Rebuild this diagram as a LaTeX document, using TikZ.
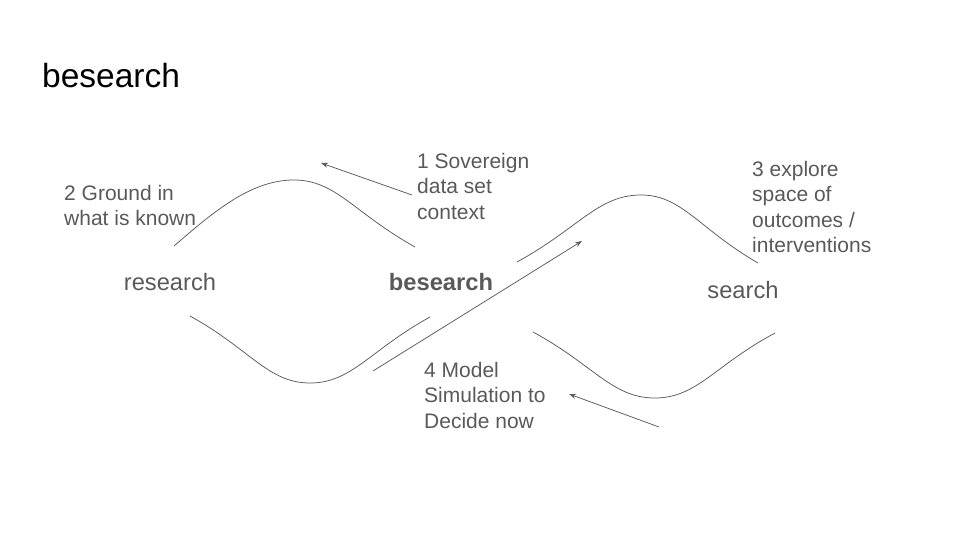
\documentclass[tikz,border=0pt]{standalone}
\usepackage{fontspec}
\setmainfont{Liberation Sans}
\usetikzlibrary{positioning}
\usetikzlibrary{arrows.meta}
\definecolor{inkgray}{HTML}{595959}
\tikzset{every node/.style={ % Sets the properties for each text
           align=left,
           inner sep=0pt,
           text=inkgray},
         hub/.style={font=\fontsize{23.7}{28}\selectfont},
         note/.style={anchor=north west,
           font=\fontsize{21}{25.5}\selectfont},
         wave/.style={draw=inkgray, line width=0.75pt},
         every edge/.style={ % Sets the properties for each arrow
           draw=inkgray, line width=0.75pt,
           -{Stealth[length=7pt,width=5pt]}}}

\begin{document}
\begin{tikzpicture}[x=1pt, y=-1pt]
  \useasboundingbox (0,0) rectangle (960,540);

  \node [anchor=base west, text=black, font=\fontsize{33.5}{40}\selectfont] (title) at (42,88) {besearch};

  \node [hub] (research) at (170,282) {research};
  \node [hub] (besearch) at (441,282) {\textbf{besearch}};
  \node [hub] (search) at (743,290) {search};

  \node [note] (ground) at (64,185) {2 Ground in\\what is known};
  \node [note] (sovereign) at (417,153) {1 Sovereign\\data set\\context};
  \node [note] (explore) at (752,161) {3 explore\\space of\\outcomes /\\interventions};
  \node [note] (model) at (424,362) {4 Model\\Simulation to\\Decide now};

  % the waves
  \draw [wave] (174,246) sin (294,180)
    .. controls (336,180) and (354,213) .. (415,247);
  \draw [wave] (190,316) .. controls (250,349) and (268,383) .. (310,383)
    .. controls (352,383) and (370,350) .. (430,317);
  \draw [wave] (517,262) .. controls (579,228) and (598,195) .. (641,195)
    .. controls (682,195) and (699,229) .. (758,263);
  \draw [wave] (533,332) .. controls (594,365) and (612,398) .. (655,398)
    .. controls (697,398) and (715,365) .. (775,333);

  \coordinate (sovtail) at (412,195);
  \coordinate (sovhead) at (321,163);
  \coordinate (crosstail) at (373,371);
  \coordinate (crosshead) at (582,241);
  \coordinate (modtail) at (659,427);
  \coordinate (modhead) at (569,394);

  \draw (sovtail) edge (sovhead);
  \draw (crosstail) edge (crosshead);
  \draw (modtail) edge (modhead);
\end{tikzpicture}
\end{document}
